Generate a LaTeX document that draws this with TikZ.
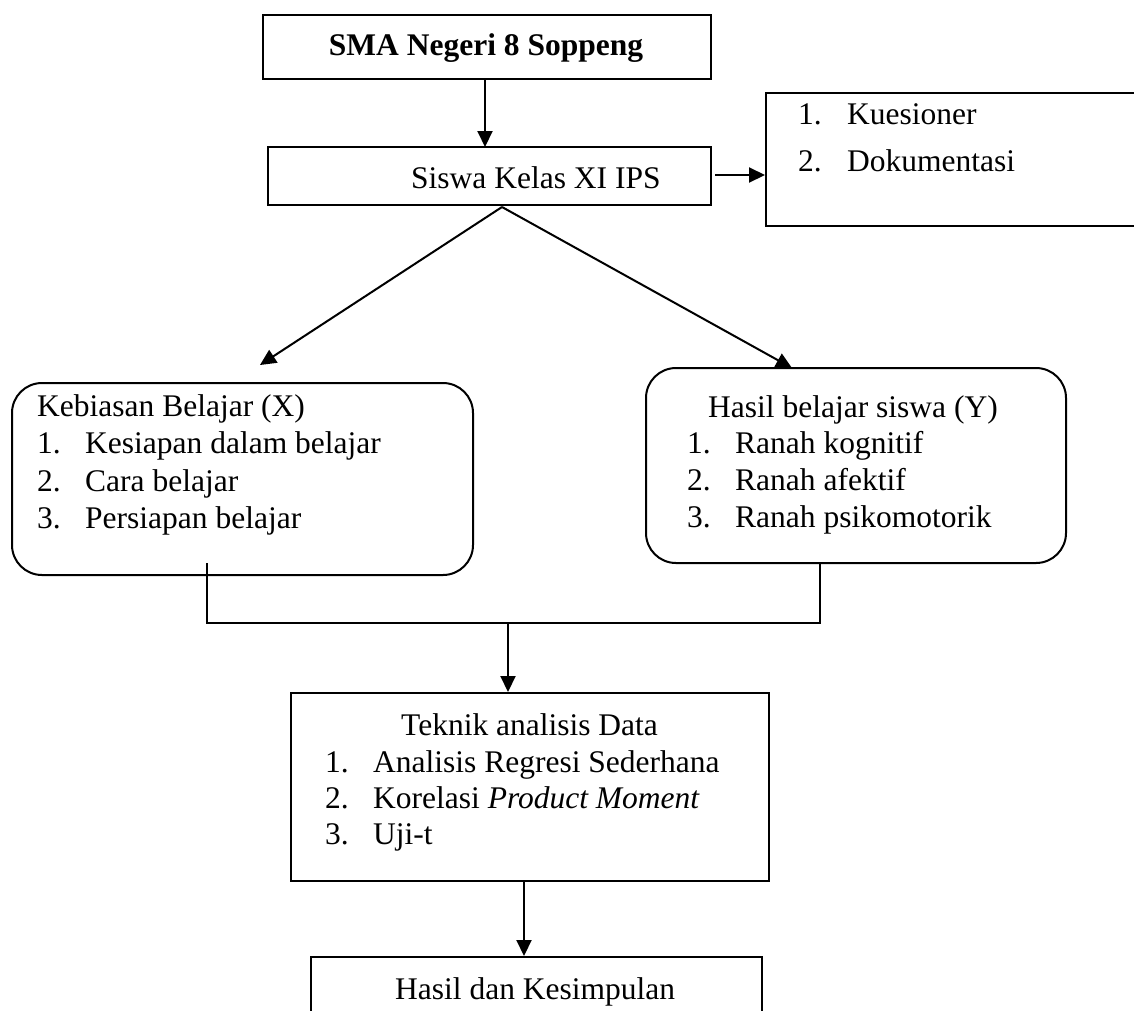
\documentclass[tikz,border=0pt]{standalone}
\usepackage{fontspec}
\setmainfont{Liberation Serif}
\usetikzlibrary{arrows.meta}
\begin{document}
\begin{tikzpicture}[x=1pt,y=-1pt,
  every node/.style={font=\fontsize{31.5}{37.8}\selectfont},
  frame/.style={draw, line width=2pt, inner sep=0pt},
  rframe/.style={frame, rounded corners=30pt},
  lbl/.style={inner sep=0pt, anchor=base west},
  conn/.style={line width=2pt},
  arr/.style={line width=2pt, -{Triangle[length=16pt,width=15pt]}}
]
\useasboundingbox (0,0) rectangle (1134,1010);
\clip (0,0) rectangle (1134,1010);

% boxes
\node[frame, minimum width=448pt, minimum height=64pt] (sma) at (487,47) {};
\node[frame, minimum width=443pt, minimum height=58pt] (siswa) at (489.5,176) {};
\node[frame, minimum width=379pt, minimum height=133pt] (kues) at (955.5,159.5) {};
\node[rframe, minimum width=461pt, minimum height=192pt] (kebiasan) at (242.5,479) {};
\node[rframe, minimum width=420pt, minimum height=195pt] (hasilb) at (856,465.5) {};
\node[frame, minimum width=478pt, minimum height=188pt] (teknik) at (530,787) {};
\node[frame, minimum width=451pt, minimum height=90pt] (hasilk) at (536.5,1002) {};

% texts
\node[inner sep=0pt, anchor=base] (smat) at (486,55) {\textbf{SMA Negeri 8 Soppeng}};
\node[lbl] (siswat) at (411,188) {Siswa Kelas XI IPS};

\node[lbl] (k1n) at (798,124) {1.};
\node[lbl] (k1) at (847,124) {Kuesioner};
\node[lbl] (k2n) at (798,171) {2.};
\node[lbl] (k2) at (847,171) {Dokumentasi};

\node[lbl] (xt) at (37,416) {Kebiasan Belajar (X)};
\node[lbl] (x1n) at (37,453) {1.};
\node[lbl] (x1) at (85,453) {Kesiapan dalam belajar};
\node[lbl] (x2n) at (37,491) {2.};
\node[lbl] (x2) at (85,491) {Cara belajar};
\node[lbl] (x3n) at (37,528.5) {3.};
\node[lbl] (x3) at (85,528.5) {Persiapan belajar};

\node[lbl] (yt) at (708,417) {Hasil belajar siswa (Y)};
\node[lbl] (y1n) at (687,453) {1.};
\node[lbl] (y1) at (735,453) {Ranah kognitif};
\node[lbl] (y2n) at (687,490) {2.};
\node[lbl] (y2) at (735,490) {Ranah afektif};
\node[lbl] (y3n) at (687,527) {3.};
\node[lbl] (y3) at (735,527) {Ranah psikomotorik};

\node[lbl] (tt) at (401,735) {Teknik analisis Data};
\node[lbl] (t1n) at (325,772) {1.};
\node[lbl] (t1) at (373,772) {Analisis Regresi Sederhana};
\node[lbl] (t2n) at (325,808) {2.};
\node[lbl] (t2) at (373,808) {Korelasi \textit{Product Moment}};
\node[lbl] (t3n) at (325,844) {3.};
\node[lbl] (t3) at (373,844) {Uji-t};

\node[lbl] (hkt) at (395,999) {Hasil dan Kesimpulan};

% connector points
\coordinate (fork) at (502,207);
\coordinate (ltip) at (260,365);
\coordinate (rtip) at (792,368);
\coordinate (lstart) at (207,563);
\coordinate (lcorner) at (207,623);
\coordinate (rcorner) at (820,623);
\coordinate (mid) at (508,623);

% connectors
\draw[arr] (485,79) -- (485,147);
\draw[arr] ([xshift=3pt]siswa.east |- 0,175) -- (kues.west |- 0,175);
\draw[arr] (fork) -- (ltip);
\draw[arr] (fork) -- (rtip);
\draw[conn] (lstart) -- (lcorner) -- (rcorner) -- (hasilb.south -| rcorner);
\draw[arr] (mid) -- (teknik.north -| mid);
\draw[arr] (teknik.south -| 524,0) -- (hasilk.north -| 524,0);
\end{tikzpicture}
\end{document}
